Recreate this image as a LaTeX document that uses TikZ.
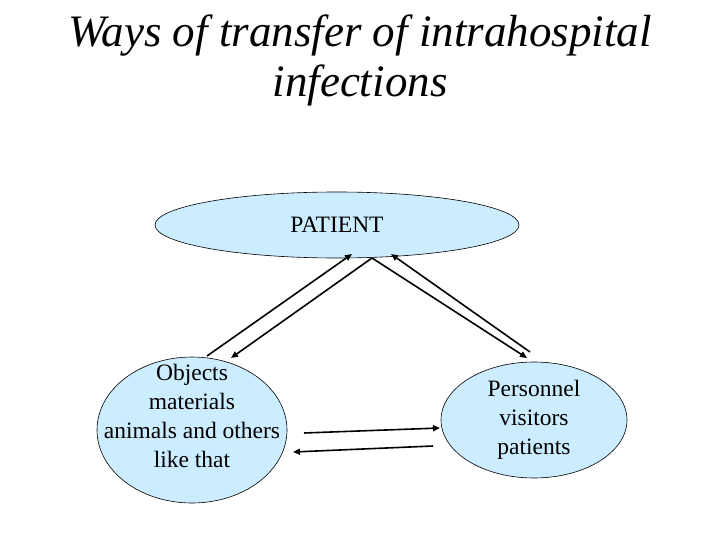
\documentclass[tikz,border=0pt]{standalone}
\usepackage{fontspec}
\setmainfont{Liberation Serif}
\usetikzlibrary{arrows.meta,shapes.geometric}
\definecolor{fillb}{RGB}{204,236,255}
\begin{document}
\begin{tikzpicture}[x=1pt,y=-1pt,
 ell/.style={ellipse,draw=black,line width=0.6pt,fill=fillb,inner sep=0pt},
 lbl/.style={align=center,inner sep=0pt,font=\rmfamily\fontsize{23.5}{29}\selectfont},
 arr/.style={line width=1.6pt,-{Triangle[length=7pt,width=6pt]}}]
\useasboundingbox (0,0) rectangle (720,540);
\node[font=\rmfamily\itshape\fontsize{45}{50}\selectfont,align=center] (title) at (360,60) {Ways of transfer of intrahospital\\infections};
\node[ell,minimum width=364pt,minimum height=66pt] (pat) at (337,225) {};
\node[ell,minimum width=190pt,minimum height=146pt] (obj) at (192,430) {};
\node[ell,minimum width=186pt,minimum height=116pt] (per) at (534,420) {};
\node[lbl] (patl) at (pat) {PATIENT};
\node[lbl] (objl) at (192,416) {Objects\\materials\\animals and others\\like that};
\node[lbl] (perl) at (per) {Personnel\\visitors\\patients};
\coordinate (a1) at (207,356); \coordinate (a2) at (352,254);
\coordinate (b1) at (372,258); \coordinate (b2) at (231,358);
\coordinate (c1) at (530,352); \coordinate (c2) at (391,254);
\coordinate (d2) at (527,358);
\coordinate (e1) at (304,433); \coordinate (e2) at (440,428);
\coordinate (f1) at (433,446); \coordinate (f2) at (293,452);
\draw[arr] (a1) -- (a2);
\draw[arr] (b1) -- (b2);
\draw[arr] (c1) -- (c2);
\draw[arr] (b1) -- (d2);
\draw[arr] (e1) -- (e2);
\draw[arr] (f1) -- (f2);
\end{tikzpicture}
\end{document}
